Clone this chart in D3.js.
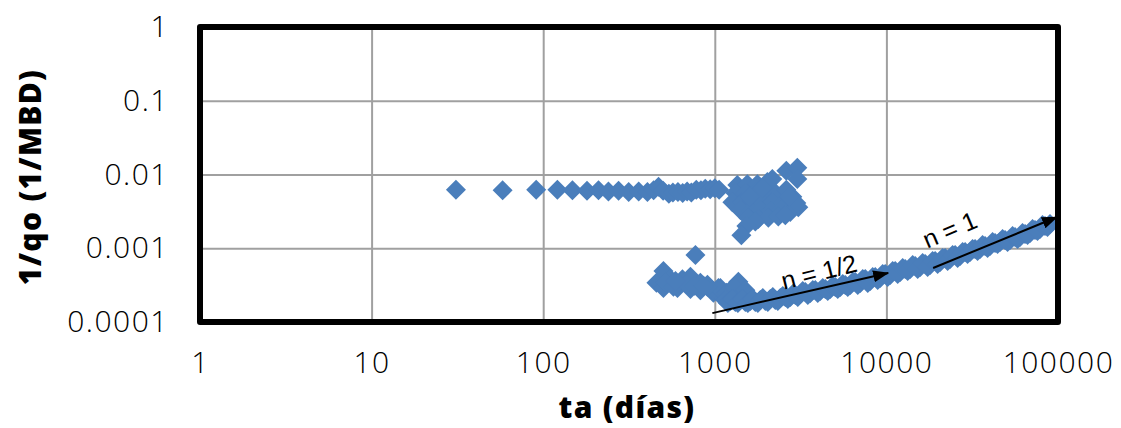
<!DOCTYPE html>
<html><head><meta charset="utf-8">
<script src="https://cdn.jsdelivr.net/npm/d3@7"></script>
<style>
body{margin:0;background:#fff;}
svg{display:block;}
.tick text{font-family:"Open Sans",sans-serif;font-weight:300;font-size:30px;fill:#000;letter-spacing:1.5px;}
.title{font-family:"Open Sans",sans-serif;font-weight:800;font-size:30px;fill:#000;letter-spacing:1.3px;}
.note{font-family:"Liberation Sans",Arial,sans-serif;font-size:25px;fill:#000;}
</style>
</head><body>
<svg id="c" width="1121" height="428"></svg>
<script>
// ---- axes ----
const xTicks = [1, 10, 100, 1000, 10000, 100000];
const xTickLabels = ["1", "10", "100", "1000", "10000", "100000"];
const yTicks = [0.0001, 0.001, 0.01, 0.1, 1];
const yTickLabels = ["0.0001", "0.001", "0.01", "0.1", "1"];
const xTitle = "ta (días)";
const yTitle = "1/qo (1/MBD)";

// ---- data: [ta (días), 1/qo (1/MBD)] ----
const earlyRow = [
  [31, 0.0062], [58, 0.0061], [91, 0.0062], [121, 0.0062], [148, 0.0061], [180, 0.0060],
  [210, 0.0061], [240, 0.0059], [275, 0.0060], [315, 0.0058], [360, 0.0059], [405, 0.0058],
  [440, 0.0061], [470, 0.0068], [500, 0.0060], [540, 0.0055], [570, 0.0057], [610, 0.0058],
  [650, 0.0056], [690, 0.0059], [730, 0.0057], [780, 0.0062], [830, 0.0061], [880, 0.0064],
  [940, 0.0063], [1000, 0.0065], [1060, 0.0062]
];
const upperCluster = [
  [1353, 0.0072], [1547, 0.0074], [1770, 0.0074], [2024, 0.0079], [2164, 0.0087], [2611, 0.0112],
  [3025, 0.0123], [3025, 0.0087],
  [1318, 0.0056], [1507, 0.0056], [1722, 0.0058], [1971, 0.0054], [2253, 0.0056], [2829, 0.0050],
  [1266, 0.0042], [1447, 0.0042], [1655, 0.0044], [1893, 0.0041], [2164, 0.0042], [2475, 0.0041], [3066, 0.0036],
  [1409, 0.0033], [1611, 0.0032], [1841, 0.0033], [2107, 0.0032], [2408, 0.0033], [2753, 0.0031],
  [1568, 0.0026], [1794, 0.0025], [2051, 0.0026], [2345, 0.0027],
  [1722, 0.0023], [1527, 0.0020], [1428, 0.0015],
  [2611, 0.0062], [2985, 0.0041], [2718, 0.0050], [2575, 0.0028], [1900, 0.0065], [1600, 0.0050]
];
const lowerCluster = [
  [457, 0.00034], [502, 0.00049], [502, 0.00029], [552, 0.00038], [606, 0.00029], [648, 0.00038],
  [721, 0.00041], [721, 0.00028], [824, 0.00034], [824, 0.00027], [906, 0.00032], [981, 0.00025],
  [1078, 0.00029], [1233, 0.00027], [1372, 0.00035], [1372, 0.00025], [1078, 0.00023],
  [516, 0.00035], [574, 0.00030], [683, 0.00033], [761, 0.00031], [968, 0.00027], [1050, 0.00029],
  [1168, 0.00025], [1300, 0.00030], [1507, 0.00027], [906, 0.00030], [590, 0.00036], [860, 0.00031],
  [771, 0.00081]
];
const trend = [
  [1153, 0.000199], [1233, 0.000193], [1318, 0.000187], [1409, 0.000199], [1507, 0.000187],
  [1612, 0.000193], [1723, 0.000187], [1842, 0.000199], [1970, 0.000193], [2106, 0.000205],
  [2252, 0.000199], [2409, 0.000211], [2575, 0.000218], [2754, 0.000218], [2945, 0.000232],
  [3149, 0.000240], [3368, 0.000255], [3601, 0.000247], [3851, 0.000272], [4118, 0.000263],
  [4404, 0.000280], [4709, 0.000280], [5035, 0.000298], [5384, 0.000298], [5757, 0.000317],
  [6157, 0.000317], [6583, 0.000349], [7040, 0.000338], [7527, 0.000383], [8049, 0.000360],
  [8607, 0.000408], [9203, 0.000395], [9840, 0.000447], [10522, 0.000434], [11251, 0.000491],
  [12032, 0.000476], [12865, 0.000523], [13757, 0.000523], [14710, 0.000574], [15730, 0.000557],
  [16820, 0.000612], [17985, 0.000593], [19231, 0.000672], [20565, 0.000651], [21990, 0.000738],
  [23513, 0.000715], [25142, 0.000810], [26885, 0.000785], [28748, 0.000890], [30740, 0.000890],
  [32870, 0.000977], [35156, 0.000977], [37590, 0.001073], [40195, 0.001073], [42981, 0.001178],
  [45960, 0.001220], [49144, 0.001294], [52550, 0.001294], [56190, 0.001421], [60080, 0.001421],
  [64260, 0.001561], [68710, 0.001609], [73470, 0.001768], [78560, 0.001824], [84000, 0.002003],
  [89830, 0.002132]
];
const trendMid = [
  [1192, 0.000181], [1275, 0.000205], [1363, 0.000181], [1457, 0.000205], [1558, 0.000181],
  [1667, 0.000205], [1782, 0.000181], [1905, 0.000211], [2037, 0.000187], [2178, 0.000218],
  [2329, 0.000193], [2491, 0.000225], [2663, 0.000205], [2848, 0.000240], [3045, 0.000218],
  [3256, 0.000263], [3483, 0.000232], [3724, 0.000272], [3982, 0.000247], [4258, 0.000289],
  [4554, 0.000263], [4870, 0.000308], [5207, 0.000280], [5568, 0.000327], [5953, 0.000298],
  [6367, 0.000349], [6807, 0.000317], [7280, 0.000383], [7784, 0.000338], [8323, 0.000408],
  [8900, 0.000371], [9517, 0.000447], [10176, 0.000408], [10881, 0.000491], [11635, 0.000447],
  [12442, 0.000540], [13304, 0.000491], [14226, 0.000593], [15212, 0.000523], [16266, 0.000631],
  [17394, 0.000557], [18598, 0.000672], [19887, 0.000612], [21266, 0.000738], [22740, 0.000672],
  [24315, 0.000810], [26000, 0.000738], [27802, 0.000890], [29728, 0.000836], [31788, 0.000977],
  [33991, 0.000918], [36355, 0.001107], [38872, 0.001008], [41566, 0.001215], [44447, 0.001142],
  [47527, 0.001335], [50820, 0.001215], [54342, 0.001466], [58106, 0.001335], [62129, 0.001609],
  [66451, 0.001512], [71053, 0.001824], [75975, 0.001714], [81239, 0.002067], [86864, 0.001941]
];
// annotation arrows (data coordinates) and labels
const arrows = [
  {from: [968, 0.000132], to: [10240, 0.000462]},
  {from: [18720, 0.00054], to: [98700, 0.00265]}
];
const notes = [
  {text: "n = 1/2", at: [4050, 0.000478], angle: -14},
  {text: "n = 1", at: [23400, 0.00178], angle: -23}
];

// ---- drawing ----
const svg = d3.select("#c");
const L = 200, R = 1058, T = 27, B = 322;
const x = d3.scaleLog().domain([1, 100000]).range([L, R]);
const y = d3.scaleLog().domain([0.0001, 1]).range([B, T]);
const blue = "#4a7ebb";

// gridlines
svg.append("g").attr("transform", `translate(0,${B})`)
  .call(d3.axisBottom(x).tickValues(xTicks).tickSize(-(B - T)).tickFormat(""))
  .call(g => g.select(".domain").remove())
  .call(g => g.selectAll("line").attr("stroke", "#a0a0a0").attr("stroke-width", 2));
svg.append("g").attr("transform", `translate(${L},0)`)
  .call(d3.axisLeft(y).tickValues(yTicks).tickSize(-(R - L)).tickFormat(""))
  .call(g => g.select(".domain").remove())
  .call(g => g.selectAll("line").attr("stroke", "#a0a0a0").attr("stroke-width", 2));

// tick labels
svg.append("g").attr("transform", `translate(0,${B})`)
  .call(d3.axisBottom(x).tickValues(xTicks).tickSize(0).tickPadding(30)
    .tickFormat((d, i) => xTickLabels[i]))
  .call(g => g.select(".domain").remove());
svg.append("g").attr("transform", `translate(${L},0)`)
  .call(d3.axisLeft(y).tickValues(yTicks).tickSize(0).tickPadding(31)
    .tickFormat((d, i) => yTickLabels[i]))
  .call(g => g.select(".domain").remove());

// points
const diamond = "M0,-10L10,0L0,10L-10,0Z";
const all = [].concat(earlyRow, upperCluster, lowerCluster, trend, trendMid);
svg.append("g").selectAll("path").data(all).join("path")
  .attr("d", diamond)
  .attr("transform", d => `translate(${x(d[0])},${y(d[1])})`)
  .attr("fill", blue);

// arrows
const defs = svg.append("defs");
defs.append("marker").attr("id", "ah").attr("viewBox", "0 0 16 12")
  .attr("refX", 15).attr("refY", 6).attr("markerWidth", 16).attr("markerHeight", 12)
  .attr("markerUnits", "userSpaceOnUse").attr("orient", "auto")
  .append("path").attr("d", "M0,0L16,6L0,12Z").attr("fill", "#000");
svg.append("g").selectAll("line").data(arrows).join("line")
  .attr("x1", d => x(d.from[0])).attr("y1", d => y(d.from[1]))
  .attr("x2", d => x(d.to[0])).attr("y2", d => y(d.to[1]))
  .attr("stroke", "#000").attr("stroke-width", 2).attr("marker-end", "url(#ah)");
svg.append("g").selectAll("text").data(notes).join("text")
  .attr("class", "note")
  .attr("text-anchor", "middle").attr("dy", "0.35em")
  .attr("transform", d => `translate(${x(d.at[0])},${y(d.at[1])}) rotate(${d.angle})`)
  .text(d => d.text);

// plot border
svg.append("rect").attr("x", L).attr("y", T).attr("width", R - L).attr("height", B - T)
  .attr("fill", "none").attr("stroke", "#000").attr("stroke-width", 6)
  .attr("stroke-linejoin", "round");

// titles
svg.append("text").attr("class", "title").attr("text-anchor", "middle")
  .attr("x", 627).attr("y", 418).text(xTitle);
svg.append("text").attr("class", "title").attr("text-anchor", "middle")
  .attr("transform", "translate(41,177) rotate(-90)").text(yTitle);
</script>
</body></html>
